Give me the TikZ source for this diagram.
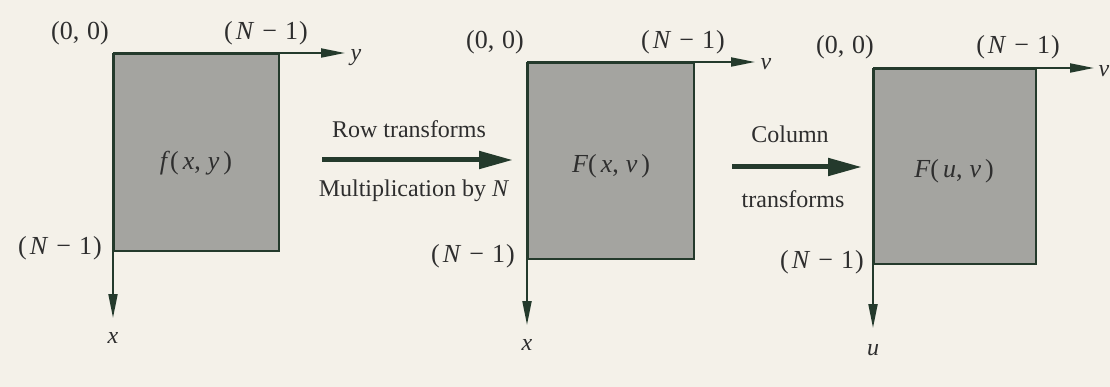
\documentclass[tikz,border=0pt]{standalone}
\usepackage{fontspec}
\setmainfont{Liberation Serif}
\usetikzlibrary{arrows.meta}
\definecolor{ink}{HTML}{243A2C}
\definecolor{txt}{HTML}{2E2E2E}
\definecolor{paper}{HTML}{F4F1E9}
\definecolor{shade}{HTML}{A4A4A0}
\newcommand{\Nm}{(\kern3pt\textit{N}\kern8pt−\kern8pt1\kern1pt)}
\newcommand{\Oo}{(0,\kern8pt0)}
\newcommand{\fargs}[3]{\textit{#1}(\kern4pt\textit{#2},\kern7pt\textit{#3}\kern4pt)}
\begin{document}
\begin{tikzpicture}[x=1pt,y=-1pt,
  lbl/.style={text=txt,font=\fontsize{24}{27}\selectfont,inner sep=0pt},
  big/.style={lbl,font=\fontsize{26}{29}\selectfont},
  sq/.style={draw=ink,line width=2pt,fill=shade,inner sep=0pt,anchor=north west},
  axis/.style={draw=ink,line width=2pt,-{Triangle[length=24pt,width=9pt]}},
  bigarrow/.style={draw=ink,line width=5pt,-{Triangle[length=34pt,width=17pt]}}]
\fill[paper] (0,0) rectangle (1110,387);
\useasboundingbox (0,0) rectangle (1110,387);
% ---- square 1
\node[sq,minimum width=165pt,minimum height=197pt] (s1) at (113,53) {};
\coordinate (y1) at (345,53);
\coordinate (x1) at (113,318);
\draw[axis] (s1.north west) -- (y1);
\draw[axis] (s1.north west) -- (x1);
\node[big] (f1) at (196,163) {\fargs{f}{x}{y}};
\node[big] (o1) at (80,33) {\Oo};
\node[big] (n1a) at (266,33) {\Nm};
\node[big] (n1b) at (60,248) {\Nm};
\node[lbl] (ly1) at (356,58) {\textit{y}};
\node[lbl] (lx1) at (113,338) {\textit{x}};
% ---- row arrow
\coordinate (r0) at (322,160);
\coordinate (r1) at (513,160);
\draw[bigarrow] (r0) -- (r1);
\node[lbl] (rt) at (409,129) {Row transforms};
\node[lbl] (mt) at (414,191) {Multiplication by \textit{N}};
% ---- square 2
\node[sq,minimum width=166pt,minimum height=196pt] (s2) at (527,62) {};
\coordinate (y2) at (755,62);
\coordinate (x2) at (527,325);
\draw[axis] (s2.north west) -- (y2);
\draw[axis] (s2.north west) -- (x2);
\node[big] (f2) at (611,166) {\fargs{F}{x}{v}};
\node[big] (o2) at (495,42) {\Oo};
\node[big] (n2a) at (683,42) {\Nm};
\node[big] (n2b) at (473,256) {\Nm};
\node[lbl] (ly2) at (766,64) {\textit{v}};
\node[lbl] (lx2) at (527,345) {\textit{x}};
% ---- column arrow
\coordinate (c0) at (732,167);
\coordinate (c1) at (862,167);
\draw[bigarrow] (c0) -- (c1);
\node[lbl] (ct) at (790,134) {Column};
\node[lbl] (tt) at (793,199) {transforms};
% ---- square 3
\node[sq,minimum width=162pt,minimum height=195pt] (s3) at (873,68) {};
\coordinate (y3) at (1094,68);
\coordinate (x3) at (873,328);
\draw[axis] (s3.north west) -- (y3);
\draw[axis] (s3.north west) -- (x3);
\node[big] (f3) at (954,171) {\fargs{F}{u}{v}};
\node[big] (o3) at (845,47) {\Oo};
\node[big] (n3a) at (1018,47) {\Nm};
\node[big] (n3b) at (822,262) {\Nm};
\node[lbl] (ly3) at (1104,71) {\textit{v}};
\node[lbl] (lx3) at (873,350) {\textit{u}};
\end{tikzpicture}
\end{document}
